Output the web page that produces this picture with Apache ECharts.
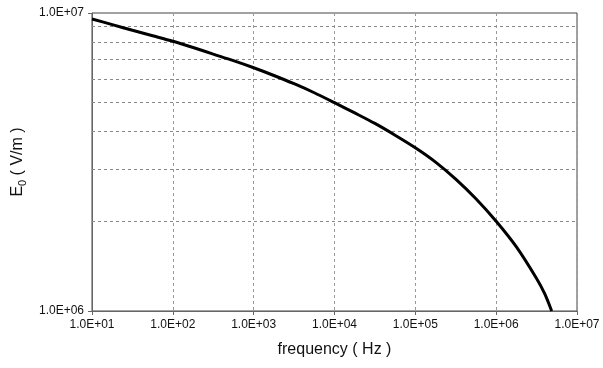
<!DOCTYPE html>
<html>
<head>
<meta charset="utf-8">
<script src="https://cdn.jsdelivr.net/npm/echarts@6/dist/echarts.min.js"></script>
<style>
  html, body { margin: 0; padding: 0; background: #fff; }
  #chart { width: 603px; height: 368px; }
</style>
</head>
<body>
<div id="chart"></div>
<script>
// Field amplitude E0 versus frequency (log-log)
const frequency = [1e1, 1.78e1, 3.16e1, 5.62e1, 1e2, 1.78e2, 3.16e2, 5.62e2, 1e3, 1.78e3, 3.16e3, 5.62e3,
                   1e4, 1.78e4, 3.16e4, 5.62e4, 1e5, 1.78e5, 3.16e5, 5.62e5, 1e6, 1.78e6, 3.16e6, 3.98e6, 4.86e6];
const fieldE0 = [9.55e6, 9.14e6, 8.75e6, 8.39e6, 8.04e6, 7.66e6, 7.28e6, 6.92e6, 6.55e6, 6.17e6, 5.79e6, 5.40e6,
                 5.0e6, 4.62e6, 4.26e6, 3.89e6, 3.53e6, 3.16e6, 2.77e6, 2.38e6, 2.0e6, 1.64e6, 1.285e6, 1.143e6, 1.0e6];
const yGridValues = [2e6, 3e6, 4e6, 5e6, 6e6, 7e6, 8e6, 9e6];

const sci = v => {
  const e = Math.round(Math.log10(v));
  return '1.0E+' + (e < 10 ? '0' : '') + e;
};

const FONT = 'Liberation Sans';
const chart = echarts.init(document.getElementById('chart'));
chart.setOption({
  animation: false,
  grid: { left: 92, right: 26, top: 13, bottom: 57, show: true, borderColor: '#444', borderWidth: 1, backgroundColor: 'transparent' },
  xAxis: {
    type: 'log', logBase: 10, min: 10, max: 1e7, interval: 1,
    name: 'frequency ( Hz )', nameLocation: 'middle', nameGap: 31,
    nameTextStyle: { fontFamily: FONT, fontSize: 16, color: '#111' },
    axisLine: { lineStyle: { color: '#666' } },
    axisTick: { show: true, length: 4, lineStyle: { color: '#666' } },
    axisLabel: { formatter: sci, fontFamily: FONT, fontSize: 12, color: '#111', margin: 8 },
    splitLine: { show: true, lineStyle: { color: '#999', type: [3, 3], width: 1 } },
    minorTick: { show: false }
  },
  yAxis: {
    type: 'log', logBase: 10, min: 1e6, max: 1e7,
    name: '{m|E}{s|0}{m| ( V/m )}', nameLocation: 'middle', nameGap: 56, nameRotate: 90,
    nameTextStyle: {
      fontFamily: FONT, color: '#111',
      rich: {
        m: { fontFamily: FONT, fontSize: 16, color: '#111' },
        s: { fontFamily: FONT, fontSize: 11, color: '#111', padding: [9, 0, 0, 0] }
      }
    },
    axisLine: { show: true, lineStyle: { color: '#666' } },
    axisTick: { show: true, length: 4, lineStyle: { color: '#666' } },
    axisLabel: { formatter: sci, fontFamily: FONT, fontSize: 12, color: '#111', margin: 8 },
    splitLine: { show: false }
  },
  series: [{
    type: 'line',
    data: frequency.map((f, i) => [f, fieldE0[i]]),
    smooth: 0.3,
    showSymbol: false,
    lineStyle: { color: '#000', width: 3 },
    z: 5,
    markLine: {
      silent: true, symbol: 'none', label: { show: false },
      lineStyle: { color: '#888', type: [3, 3], width: 1 },
      data: yGridValues.map(v => ({ yAxis: v }))
    }
  }]
});
</script>
</body>
</html>
